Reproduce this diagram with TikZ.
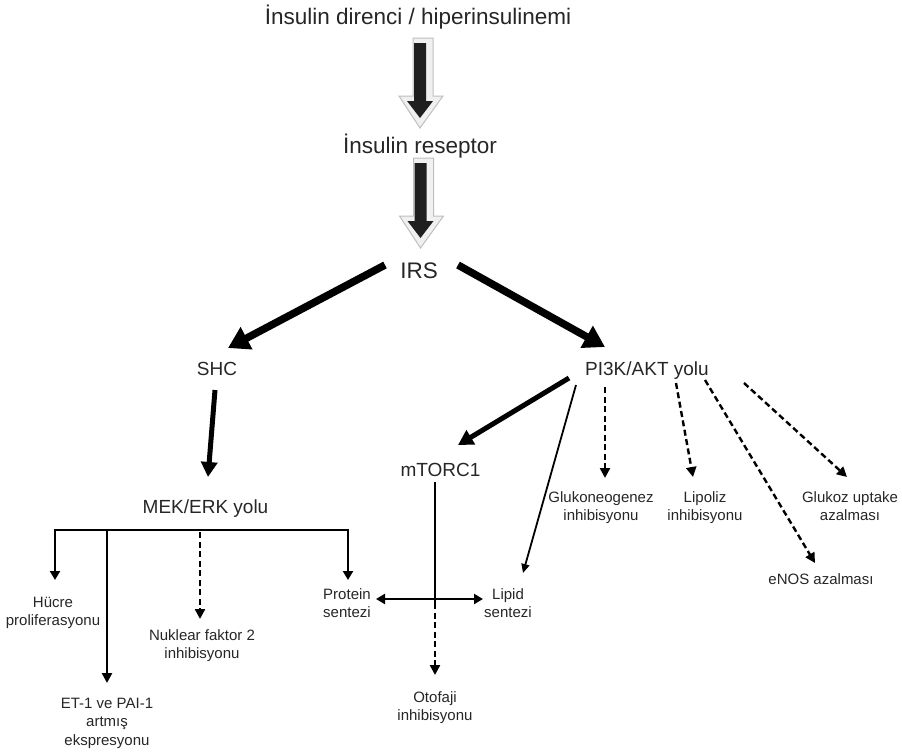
\documentclass[tikz,border=0pt]{standalone}
\usepackage{fontspec}
\setmainfont{Liberation Sans}
\usepackage{tikz}
\usetikzlibrary{arrows.meta, positioning, calc}

% big block arrow with a light grey rim: #1 top of the shaft, #2 the tip
\newcommand{\blokok}[2]{%
  \filldraw[fill=gray!12, draw=gray!50, line width=1pt]
    ($(#1)+(-7,-5)$) -- ($(#2)+(-7,-22)$) -- ($(#2)+(-21,-22)$) -- ($(#2)+(0,10)$)
    -- ($(#2)+(23,-22)$) -- ($(#2)+(13,-22)$) -- ($(#1)+(13,-5)$) -- cycle;
  \fill[black!88]
    ($(#1)+(-6,0)$) -- ($(#2)+(-6,-17)$) -- ($(#2)+(-13,-17)$) -- (#2)
    -- ($(#2)+(13,-17)$) -- ($(#2)+(6,-17)$) -- ($(#1)+(6,0)$) -- cycle;
}

\begin{document}
\begin{tikzpicture}[x=1pt, y=-1pt,
    buyuk/.style={font=\fontsize{22.5}{27}\selectfont, inner sep=0pt, text=black!85},
    orta/.style={font=\fontsize{19}{23}\selectfont, inner sep=0pt, text=black!85},
    kucuk/.style={font=\fontsize{15}{18.5}\selectfont, inner sep=0pt, align=center, text=black!85},
    kalin/.style={line width=7.5pt, -{Triangle[length=21pt,width=24pt]}},
    ortaok/.style={line width=5pt, -{Triangle[length=15pt,width=16pt]}},
    ince/.style={line width=2.8pt, -{Triangle[length=10pt,width=10pt]}},
    incecik/.style={line width=1.8pt, -{Triangle[length=9pt,width=8pt]}},
    kesik/.style={line width=2.4pt, dash pattern=on 6pt off 3.5pt, -{Triangle[length=10pt,width=10pt]}},
    ciftok/.style={line width=2.8pt, {Triangle[length=9pt,width=10pt]}-{Triangle[length=9pt,width=10pt]}}]
    \useasboundingbox (0,0) rectangle (902,753);

    \node[buyuk, anchor=base] (baslik) at (418,24.5) {İnsulin direnci / hiperinsulinemi};
    \node[buyuk, below=128.5pt of baslik.base, xshift=2pt, anchor=base] (reseptor) {İnsulin reseptor};
    \node[buyuk, below=125pt of reseptor.base, xshift=-1pt, anchor=base] (irs) {IRS};
    \node[orta, below=97pt of irs.base, xshift=-202pt, anchor=base] (shc) {SHC};
    \node[orta, below=97pt of irs.base, xshift=228pt, anchor=base] (pik) {PI3K/AKT yolu};
    \node[orta, below=138pt of shc.base, xshift=-11.5pt, anchor=base] (mek) {MEK/ERK yolu};
    \node[orta, below=101pt of pik.base, xshift=-206.5pt, anchor=base] (mtor) {mTORC1};

    % base of a node with several lines = baseline of its last line
    \node[kucuk, below=112.5pt of mek.base, xshift=-152.5pt, anchor=base] (hucre) {Hücre\\proliferasyonu};
    \node[kucuk, below=232pt of mek.base, xshift=-98.5pt, anchor=base] (et) {ET-1 ve PAI-1\\artmış\\ekspresyonu};
    \node[kucuk, below=145.5pt of mek.base, xshift=-3.5pt, anchor=base] (nuk) {Nuklear faktor 2\\inhibisyonu};
    \node[kucuk, below=104.5pt of mek.base, xshift=141.5pt, anchor=base] (protein) {Protein\\sentezi};
    \node[kucuk, below=141.5pt of mtor.base, xshift=67.5pt, anchor=base] (lipid) {Lipid\\sentezi};
    \node[kucuk, below=244.5pt of mtor.base, xshift=-5.5pt, anchor=base] (otofaji) {Otofaji\\inhibisyonu};
    \node[kucuk, below=145.5pt of pik.base, xshift=-46pt, anchor=base] (gluko) {Glukoneogenez\\inhibisyonu};
    \node[kucuk, below=145.5pt of pik.base, xshift=58pt, anchor=base] (lipoliz) {Lipoliz\\inhibisyonu};
    \node[kucuk, below=209pt of pik.base, xshift=174pt, anchor=base] (enos) {eNOS azalması};
    \node[kucuk, below=145.5pt of pik.base, xshift=203pt, anchor=base] (glukoz) {Glukoz uptake\\azalması};

    % block arrows at the top
    \coordinate (b1) at ([shift={(2,18.5)}]baslik.base);
    \coordinate (b1u) at ([shift={(0,-35)}]reseptor.base);
    \coordinate (b2) at ([shift={(0.5,10)}]reseptor.base);
    \coordinate (b2u) at ([shift={(1.5,-40)}]irs.base);
    \blokok{b1}{b1u}
    \blokok{b2}{b2u}

    \draw[kalin] ([shift={(-34,-13)}]irs.base) -- ([shift={(11,-27)}]shc.base);
    \draw[kalin] ([shift={(39,-13)}]irs.base) -- ([shift={(-42,-28)}]pik.base);
    \draw[ortaok] ([shift={(-2,15)}]shc.base) -- ([shift={(2.5,-36)}]mek.base);

    % MEK/ERK branches
    \coordinate (dal) at ([shift={(0,17)}]mek.base);
    \coordinate (u1) at ([shift={(2,-45.5)}]hucre.base);
    \coordinate (u2) at ([shift={(0,-62)}]et.base);
    \coordinate (u3) at ([shift={(-2,-39.5)}]nuk.base);
    \coordinate (u4) at ([shift={(1,-37.5)}]protein.base);
    \draw[ciftok] (u1) |- (dal) -| (u4);
    \draw[ince] (dal -| u2) -- (u2);
    \draw[kesik] ([yshift=-2pt]dal -| u3) -- (u3);

    % PI3K/AKT branches
    \draw[ortaok] ([shift={(-78,3)}]pik.base) -- ([shift={(17.5,-31)}]mtor.base);
    \draw[incecik] ([shift={(-71,10)}]pik.base) -- ([shift={(15,-44.5)}]lipid.base);
    \draw[kesik] ([shift={(-42,12)}]pik.base) -- ([shift={(4,-42.5)}]gluko.base);
    \draw[kesik] ([shift={(29,8)}]pik.base) -- ([shift={(-12,-43.5)}]lipoliz.base);
    \draw[kesik] ([shift={(58,5)}]pik.base) -- ([shift={(-6,-21)}]enos.base);
    \draw[kesik] ([shift={(97,8)}]pik.base) -- ([shift={(-3,-43.5)}]glukoz.base);

    % mTORC1 cross
    \coordinate (mt) at ([shift={(-5.5,6)}]mtor.base);
    \coordinate (pr) at ([shift={(0,-18.5)}]protein.base);
    \coordinate (kes) at (mt |- pr);
    \draw[line width=2.8pt] (mt) -- ([shift={(0,4)}]kes);
    \draw[kesik] ([shift={(0,4)}]kes) -- ([shift={(0,-45.5)}]otofaji.base);
    \draw[ciftok] ([shift={(29,-18.5)}]protein.base) -- ([shift={(-25,-18.5)}]lipid.base);
\end{tikzpicture}
\end{document}
